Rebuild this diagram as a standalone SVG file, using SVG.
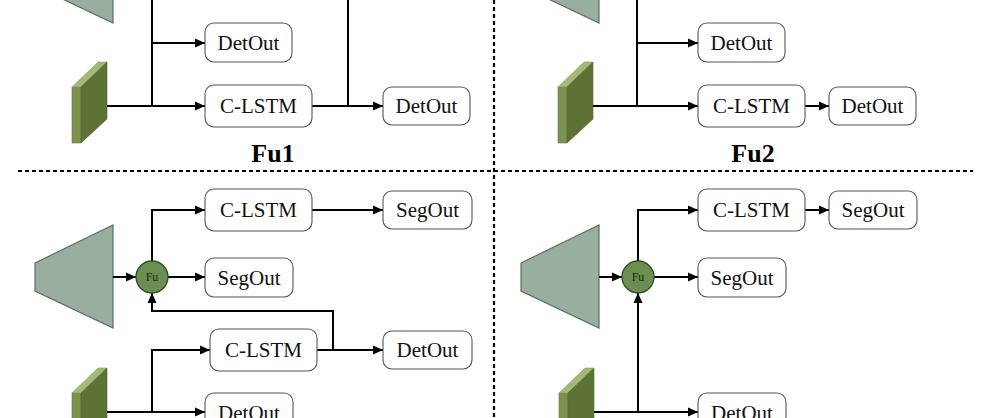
<svg xmlns="http://www.w3.org/2000/svg" width="983" height="418" viewBox="0 0 983 418">
<defs>
<marker id="ah" viewBox="0 0 10 10" refX="10" refY="5" markerWidth="10" markerHeight="10" markerUnits="userSpaceOnUse" orient="auto">
<path d="M0,0.5 L10,5 L0,9.5 Z" fill="#000"/>
</marker>
<g id="plate">
<rect x="72" y="87" width="9" height="56" fill="#7d914e" stroke="#6a7c40" stroke-width="0.6"/>
<polygon points="72,87 98,62 107,62 81,87" fill="#a4b877" stroke="#8a9d5e" stroke-width="0.6"/>
<polygon points="81,87 107,62 107,119 81,143" fill="#5f7236" stroke="#55672f" stroke-width="0.6"/>
</g>
<polygon id="trap" points="35,263 113,225 113,328 35,291" fill="#98ae9f" stroke="#5d6d62" stroke-width="1.2"/>
</defs>
<style>
.box{fill:#fff;stroke:#555;stroke-width:1.1}
.lbl{font-family:"Liberation Serif","Times New Roman",serif;font-size:21px;fill:#111;text-anchor:middle}
.ttl{font-family:"Liberation Serif","Times New Roman",serif;font-size:26px;font-weight:bold;fill:#000;text-anchor:middle}
.fu{fill:#6b8f50;stroke:#2f4a25;stroke-width:1.3}
.fut{font-family:"Liberation Serif","Times New Roman",serif;font-size:12px;fill:#1a2a10;text-anchor:middle}
.ln{fill:none;stroke:#000;stroke-width:2}
.arr{fill:none;stroke:#000;stroke-width:2;marker-end:url(#ah)}
.dot{fill:none;stroke:#000;stroke-width:2.2;stroke-dasharray:4 3}
</style>

<g id="dividers">
<line class="dot" x1="18" y1="171" x2="973" y2="171"/>
<line class="dot" x1="494" y1="0" x2="494" y2="418"/>
</g>

<g id="shapes">
<use href="#trap" transform="translate(0,-305)"/>
<use href="#trap" transform="translate(486,-305)"/>
<use href="#plate"/>
<use href="#plate" transform="translate(486,0)"/>
<use href="#trap"/>
<use href="#trap" transform="translate(486,0)"/>
<use href="#plate" transform="translate(0,306)"/>
<use href="#plate" transform="translate(487,306)"/>
</g>

<g id="connectors">
<line class="ln" x1="152" y1="0" x2="152" y2="106"/>
<line class="arr" x1="152" y1="43" x2="205" y2="43"/>
<line class="arr" x1="107" y1="106" x2="205" y2="106"/>
<line class="ln" x1="348" y1="0" x2="348" y2="106"/>
<line class="arr" x1="312" y1="106" x2="383" y2="106"/>
<line class="ln" x1="637" y1="0" x2="637" y2="106"/>
<line class="arr" x1="637" y1="43" x2="698" y2="43"/>
<line class="arr" x1="593" y1="106" x2="698" y2="106"/>
<line class="arr" x1="805" y1="106" x2="829" y2="106"/>
<line class="arr" x1="113" y1="277" x2="136" y2="277"/>
<polyline class="arr" points="152,261 152,210 205,210"/>
<line class="arr" x1="312" y1="210" x2="383" y2="210"/>
<line class="arr" x1="168" y1="277" x2="205" y2="277"/>
<polyline class="arr" points="333,350 333,311 152,311 152,293"/>
<line class="arr" x1="317" y1="350" x2="383" y2="350"/>
<polyline class="arr" points="152,412 152,350 210,350"/>
<line class="arr" x1="107" y1="412" x2="205" y2="412"/>
<line class="arr" x1="599" y1="277" x2="622" y2="277"/>
<polyline class="arr" points="638,261 638,210 698,210"/>
<line class="arr" x1="805" y1="210" x2="829" y2="210"/>
<line class="arr" x1="654" y1="277" x2="698" y2="277"/>
<line class="arr" x1="638" y1="412" x2="638" y2="293"/>
<line class="arr" x1="594" y1="412" x2="698" y2="412"/>
</g>

<g id="n-fu1-detout1"><rect class="box" x="205" y="23" width="87" height="39" rx="9"/><text class="lbl" x="248.5" y="50">DetOut</text></g>
<g id="n-fu1-clstm"><rect class="box" x="205" y="85" width="107" height="42" rx="9"/><text class="lbl" x="258.5" y="113">C-LSTM</text></g>
<g id="n-fu1-detout2"><rect class="box" x="383" y="87" width="87" height="38" rx="9"/><text class="lbl" x="426.5" y="113">DetOut</text></g>
<g id="n-fu1-title"><text class="ttl" x="273" y="162">Fu1</text></g>

<g id="n-fu2-detout1"><rect class="box" x="698" y="23" width="87" height="39" rx="9"/><text class="lbl" x="741.5" y="50">DetOut</text></g>
<g id="n-fu2-clstm"><rect class="box" x="698" y="85" width="107" height="42" rx="9"/><text class="lbl" x="751.5" y="113">C-LSTM</text></g>
<g id="n-fu2-detout2"><rect class="box" x="829" y="87" width="87" height="38" rx="9"/><text class="lbl" x="872.5" y="113">DetOut</text></g>
<g id="n-fu2-title"><text class="ttl" x="753" y="162">Fu2</text></g>

<g id="n-fu3-clstm1"><rect class="box" x="205" y="189" width="107" height="42" rx="9"/><text class="lbl" x="258.5" y="217">C-LSTM</text></g>
<g id="n-fu3-segout1"><rect class="box" x="383" y="191" width="89" height="38" rx="9"/><text class="lbl" x="427.5" y="217">SegOut</text></g>
<g id="n-fu3-circle"><circle class="fu" cx="152" cy="277" r="16"/><text class="fut" x="152" y="281">Fu</text></g>
<g id="n-fu3-segout2"><rect class="box" x="205" y="258" width="88" height="39" rx="9"/><text class="lbl" x="249" y="285">SegOut</text></g>
<g id="n-fu3-clstm2"><rect class="box" x="210" y="329" width="107" height="42" rx="9"/><text class="lbl" x="263.5" y="357">C-LSTM</text></g>
<g id="n-fu3-detout1"><rect class="box" x="383" y="331" width="89" height="38" rx="9"/><text class="lbl" x="427.5" y="357">DetOut</text></g>
<g id="n-fu3-detout2"><rect class="box" x="205" y="393" width="88" height="39" rx="9"/><text class="lbl" x="249" y="420">DetOut</text></g>

<g id="n-fu4-clstm"><rect class="box" x="698" y="189" width="107" height="42" rx="9"/><text class="lbl" x="751.5" y="217">C-LSTM</text></g>
<g id="n-fu4-segout1"><rect class="box" x="829" y="191" width="88" height="38" rx="9"/><text class="lbl" x="873" y="217">SegOut</text></g>
<g id="n-fu4-circle"><circle class="fu" cx="638" cy="277" r="16"/><text class="fut" x="638" y="281">Fu</text></g>
<g id="n-fu4-segout2"><rect class="box" x="698" y="258" width="88" height="39" rx="9"/><text class="lbl" x="742" y="285">SegOut</text></g>
<g id="n-fu4-detout"><rect class="box" x="698" y="393" width="88" height="39" rx="9"/><text class="lbl" x="742" y="420">DetOut</text></g>
</svg>
